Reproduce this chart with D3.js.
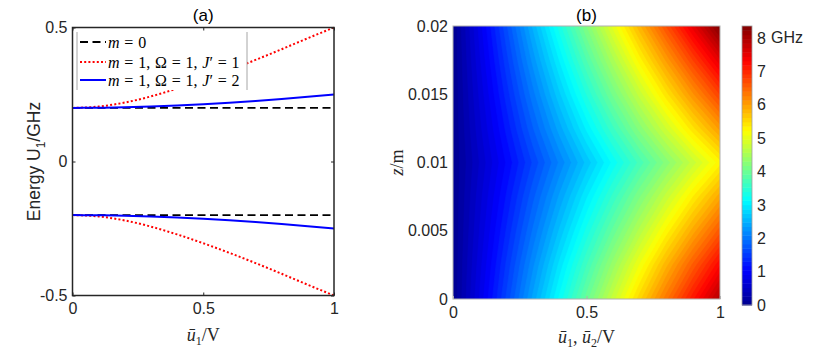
<!DOCTYPE html>
<html>
<head>
<meta charset="utf-8">
<script src="https://cdn.jsdelivr.net/npm/d3@7"></script>
<style>
  body { margin: 0; background: #fff; }
  .tick text { font-family: "Liberation Sans", Arial, sans-serif; fill: #262626; }
</style>
</head>
<body>
<div id="chart"></div>
<script>
// ---- data ----

// panel (a): energy levels vs u1
const uBar = [0, 0.1, 0.2, 0.3, 0.4, 0.5, 0.6, 0.7, 0.8, 0.9, 1];
const m0Upper = [0.2, 0.2, 0.2, 0.2, 0.2, 0.2, 0.2, 0.2, 0.2, 0.2, 0.2];
const m0Lower = [-0.2, -0.2, -0.2, -0.2, -0.2, -0.2, -0.2, -0.2, -0.2, -0.2, -0.2];
const j1Upper = [0.2, 0.205, 0.22, 0.243, 0.272, 0.305, 0.341, 0.379, 0.419, 0.46, 0.5];
const j1Lower = [-0.2, -0.205, -0.22, -0.243, -0.272, -0.305, -0.341, -0.379, -0.419, -0.46, -0.5];
const j2Upper = [0.2, 0.2006, 0.2022, 0.205, 0.2088, 0.2136, 0.2193, 0.2259, 0.2332, 0.2413, 0.25];
const j2Lower = [-0.2, -0.2006, -0.2022, -0.205, -0.2088, -0.2136, -0.2193, -0.2259, -0.2332, -0.2413, -0.25];

// panel (b): GHz map over (u1,u2) and z
const uGrid = [0, 0.1, 0.2, 0.3, 0.4, 0.5, 0.6, 0.7, 0.8, 0.9, 1];
const zGrid = [0, 0.0025, 0.005, 0.0075, 0.01, 0.0125, 0.015, 0.0175, 0.02];
const ghz = [
  [0, 0.80, 1.59, 2.39, 3.18, 3.98, 4.77, 5.57, 6.36, 7.16, 7.95],
  [0, 0.73, 1.46, 2.19, 2.92, 3.65, 4.38, 5.11, 5.84, 6.57, 7.30],
  [0, 0.66, 1.32, 1.98, 2.64, 3.30, 3.96, 4.62, 5.28, 5.94, 6.60],
  [0, 0.60, 1.19, 1.79, 2.38, 2.98, 3.57, 4.17, 4.76, 5.36, 5.95],
  [0, 0.53, 1.06, 1.59, 2.12, 2.65, 3.18, 3.71, 4.24, 4.77, 5.30],
  [0, 0.61, 1.21, 1.82, 2.42, 3.03, 3.63, 4.24, 4.84, 5.45, 6.05],
  [0, 0.68, 1.36, 2.04, 2.72, 3.40, 4.08, 4.76, 5.44, 6.12, 6.80],
  [0, 0.76, 1.51, 2.27, 3.02, 3.78, 4.53, 5.29, 6.04, 6.80, 7.55],
  [0, 0.84, 1.67, 2.51, 3.34, 4.18, 5.01, 5.85, 6.68, 7.52, 8.35]
];
const cbMax = 8.36;

// ticks
const xTicksA = [0, 0.5, 1];
const yTicksA = [-0.5, 0, 0.5];
const xTicksB = [0, 0.5, 1];
const yTicksB = [0, 0.005, 0.01, 0.015, 0.02];
const cbTicks = [0, 1, 2, 3, 4, 5, 6, 7, 8];

// ---- layout ----
const W = 830, H = 349;
const pa = {l: 72.5, r: 334, t: 27.5, b: 295.5};
const pb = {l: 453, r: 720, t: 26, b: 299};
const cb = {l: 742, r: 752, t: 26, b: 305};
const sans = '"Liberation Sans", Arial, sans-serif';
const serif = '"Liberation Serif", "DejaVu Serif", serif';
const axisColor = "#262626";
const fmt = d => String(d); // plain hyphen minus like matlab

const svg = d3.select("#chart").append("svg")
  .attr("width", W).attr("height", H);

// ---- panel (a) ----
const xA = d3.scaleLinear().domain([0, 1]).range([pa.l, pa.r]);
const yA = d3.scaleLinear().domain([-0.5, 0.5]).range([pa.b, pa.t]);

const lineA = (ys) => d3.line()
  .x((d, i) => xA(uBar[i]))
  .y(d => yA(d))
  .curve(d3.curveMonotoneX)(ys);

const gA = svg.append("g");

// curves
[m0Upper, m0Lower].forEach(s => gA.append("path")
  .attr("d", lineA(s)).attr("fill", "none")
  .attr("stroke", "#000").attr("stroke-width", 1.8)
  .attr("stroke-dasharray", "8,4.5"));
[j1Upper, j1Lower].forEach(s => gA.append("path")
  .attr("d", lineA(s)).attr("fill", "none")
  .attr("stroke", "#ff0000").attr("stroke-width", 2)
  .attr("stroke-dasharray", "2,2.2"));
[j2Upper, j2Lower].forEach(s => gA.append("path")
  .attr("d", lineA(s)).attr("fill", "none")
  .attr("stroke", "#0000ff").attr("stroke-width", 2));

// legend (white box hides the curve behind it)
const leg = gA.append("g");
leg.append("rect").attr("x", 77).attr("y", 32).attr("width", 170).attr("height", 58)
  .attr("fill", "#fff");
[77, 247].forEach(x => leg.append("line")
  .attr("x1", x).attr("x2", x).attr("y1", 32).attr("y2", 90)
  .attr("stroke", "#a6a6a6").attr("stroke-width", 1));

const legendItems = [
  {stroke: "#000", dash: "8,4.5", y: 42, parts: [["m", "italic"], [" = 0", "normal"]]},
  {stroke: "#ff0000", dash: "2,2.2", y: 62, parts: [["m", "italic"], [" = 1, Ω = 1, ", "normal"], ["J", "italic"], ["′ = 1", "normal"]]},
  {stroke: "#0000ff", dash: null, y: 80, parts: [["m", "italic"], [" = 1, Ω = 1, ", "normal"], ["J", "italic"], ["′ = 2", "normal"]]}
];
legendItems.forEach(it => {
  leg.append("line").attr("x1", 80).attr("x2", 106).attr("y1", it.y).attr("y2", it.y)
    .attr("stroke", it.stroke).attr("stroke-width", it.dash === "8,4.5" ? 1.8 : 2)
    .attr("stroke-dasharray", it.dash);
  const t = leg.append("text").attr("x", 108).attr("y", it.y + 5.5)
    .style("font-family", serif).style("font-size", "16px")
    .style("word-spacing", "0.8px").attr("fill", "#000");
  it.parts.forEach(p => t.append("tspan").style("font-style", p[1]).text(p[0]));
});

// box
gA.append("rect").attr("x", pa.l).attr("y", pa.t)
  .attr("width", pa.r - pa.l).attr("height", pa.b - pa.t)
  .attr("fill", "none").attr("stroke", axisColor).attr("stroke-width", 1.5);

// axes (ticks inward)
gA.append("g").attr("transform", `translate(0,${pa.b})`)
  .call(d3.axisBottom(xA).tickValues(xTicksA).tickFormat(fmt)
    .tickSizeInner(-3).tickSizeOuter(0).tickPadding(7))
  .call(g => g.select(".domain").remove())
  .call(g => g.selectAll(".tick line").attr("stroke", axisColor))
  .call(g => g.selectAll(".tick text").style("font-size", "16px"));
gA.append("g").attr("transform", `translate(0,${pa.t})`)
  .call(d3.axisTop(xA).tickValues(xTicksA).tickFormat("")
    .tickSizeInner(-3).tickSizeOuter(0))
  .call(g => g.select(".domain").remove())
  .call(g => g.selectAll(".tick line").attr("stroke", axisColor));
gA.append("g").attr("transform", `translate(${pa.l},0)`)
  .call(d3.axisLeft(yA).tickValues(yTicksA).tickFormat(fmt)
    .tickSizeInner(-3).tickSizeOuter(0).tickPadding(5))
  .call(g => g.select(".domain").remove())
  .call(g => g.selectAll(".tick line").attr("stroke", axisColor))
  .call(g => g.selectAll(".tick text").style("font-size", "16px"));
gA.append("g").attr("transform", `translate(${pa.r},0)`)
  .call(d3.axisRight(yA).tickValues(yTicksA).tickFormat("")
    .tickSizeInner(-3).tickSizeOuter(0))
  .call(g => g.select(".domain").remove())
  .call(g => g.selectAll(".tick line").attr("stroke", axisColor));

// labels
gA.append("text").attr("x", (pa.l + pa.r) / 2).attr("y", 21)
  .attr("text-anchor", "middle").style("font-family", sans).style("font-size", "17px")
  .attr("fill", "#000").text("(a)");

const ylabA = gA.append("text")
  .attr("transform", `translate(40,${(pa.t + pa.b) / 2}) rotate(-90)`)
  .attr("text-anchor", "middle").style("font-family", sans).style("font-size", "17.5px")
  .attr("fill", axisColor);
ylabA.append("tspan").text("Energy U");
ylabA.append("tspan").attr("dy", 5).style("font-size", "12px").text("1");
ylabA.append("tspan").attr("dy", -5).text("/GHz");

const xlabA = gA.append("text").attr("x", (pa.l + pa.r) / 2).attr("y", 341)
  .attr("text-anchor", "middle").style("font-family", serif).style("font-size", "18px")
  .attr("fill", axisColor);
xlabA.append("tspan").style("font-style", "italic").text("ū");
xlabA.append("tspan").attr("dy", 4).style("font-size", "12px").text("1");
xlabA.append("tspan").attr("dy", -4).text("/V");

// ---- panel (b) ----
const xB = d3.scaleLinear().domain([0, 1]).range([pb.l, pb.r]);
const yB = d3.scaleLinear().domain([0, 0.02]).range([pb.b, pb.t]);

const jet = d3.scaleLinear()
  .domain([0, 1 / 8, 3 / 8, 5 / 8, 7 / 8, 1].map(t => t * cbMax))
  .range(["#00008f", "#0000ff", "#00ffff", "#ffff00", "#ff0000", "#800000"])
  .clamp(true);

const nLevels = 64;
const step = cbMax / nLevels;
const levels = d3.range(nLevels).map(i => i * step);

const nx = uGrid.length, ny = zGrid.length;
const flat = [];
ghz.forEach(row => row.forEach(v => flat.push(v)));

const contours = d3.contours().size([nx, ny]).thresholds(levels).smooth(true)(flat);

const du = uGrid[1] - uGrid[0], dz = zGrid[1] - zGrid[0];
const proj = d3.geoTransform({
  point: function(gx, gy) {
    this.stream.point(xB(uGrid[0] + (gx - 0.5) * du), yB(zGrid[0] + (gy - 0.5) * dz));
  }
});
const pathB = d3.geoPath(proj);

svg.append("clipPath").attr("id", "clipB").append("rect")
  .attr("x", pb.l).attr("y", pb.t).attr("width", pb.r - pb.l).attr("height", pb.b - pb.t);

const gB = svg.append("g");
gB.append("g").attr("clip-path", "url(#clipB)")
  .selectAll("path").data(contours).join("path")
  .attr("d", pathB)
  .attr("fill", d => jet(d.value + step / 2))
  .attr("stroke", d => jet(d.value + step / 2))
  .attr("stroke-width", 0.6);

// axes for (b): light lines, inward ticks
gB.append("rect").attr("x", pb.l).attr("y", pb.t)
  .attr("width", pb.r - pb.l).attr("height", pb.b - pb.t)
  .attr("fill", "none").attr("stroke", "#b0b0b0").attr("stroke-width", 1);

gB.append("g").attr("transform", `translate(0,${pb.b})`)
  .call(d3.axisBottom(xB).tickValues(xTicksB).tickFormat(fmt)
    .tickSizeInner(-3).tickSizeOuter(0).tickPadding(8))
  .call(g => g.select(".domain").remove())
  .call(g => g.selectAll(".tick line").attr("stroke", "#b0b0b0"))
  .call(g => g.selectAll(".tick text").style("font-size", "16px"));
gB.append("g").attr("transform", `translate(${pb.l},0)`)
  .call(d3.axisLeft(yB).tickValues(yTicksB).tickFormat(fmt)
    .tickSizeInner(0).tickSizeOuter(0).tickPadding(5))
  .call(g => g.select(".domain").remove())
  .call(g => g.selectAll(".tick text").style("font-size", "16px"));

gB.append("text").attr("x", (pb.l + pb.r) / 2).attr("y", 21)
  .attr("text-anchor", "middle").style("font-family", sans).style("font-size", "17px")
  .attr("fill", "#000").text("(b)");

const ylabB = gB.append("text")
  .attr("transform", `translate(403,${(pb.t + pb.b) / 2}) rotate(-90)`)
  .attr("text-anchor", "middle").style("font-family", serif).style("font-size", "18px")
  .attr("fill", axisColor);
ylabB.append("tspan").style("font-style", "italic").text("z");
ylabB.append("tspan").text("/m");

const xlabB = gB.append("text").attr("x", (pb.l + pb.r) / 2).attr("y", 343)
  .attr("text-anchor", "middle").style("font-family", serif).style("font-size", "18px")
  .attr("fill", axisColor);
xlabB.append("tspan").style("font-style", "italic").text("ū");
xlabB.append("tspan").attr("dy", 4).style("font-size", "12px").text("1");
xlabB.append("tspan").attr("dy", -4).text(", ");
xlabB.append("tspan").style("font-style", "italic").text("ū");
xlabB.append("tspan").attr("dy", 4).style("font-size", "12px").text("2");
xlabB.append("tspan").attr("dy", -4).text("/V");

// ---- colorbar ----
const yC = d3.scaleLinear().domain([0, cbMax]).range([cb.b, cb.t]);
const gC = svg.append("g");
gC.selectAll("rect.band").data(levels).join("rect")
  .attr("class", "band")
  .attr("x", cb.l).attr("width", cb.r - cb.l)
  .attr("y", d => yC(d + step))
  .attr("height", d => yC(d) - yC(d + step) + 0.5)
  .attr("fill", d => jet(d + step / 2));
gC.append("rect").attr("x", cb.l).attr("y", cb.t)
  .attr("width", cb.r - cb.l).attr("height", cb.b - cb.t)
  .attr("fill", "none").attr("stroke", "#a0a0a0").attr("stroke-width", 0.8);

gC.append("g").attr("transform", `translate(${cb.r},0)`)
  .call(d3.axisRight(yC).tickValues(cbTicks).tickFormat(fmt)
    .tickSizeInner(0).tickSizeOuter(0).tickPadding(5))
  .call(g => g.select(".domain").remove())
  .call(g => g.selectAll(".tick text").style("font-size", "16px"));
gC.append("text").attr("x", 771).attr("y", yC(8)).attr("dy", "0.32em")
  .style("font-family", sans).style("font-size", "16px").attr("fill", axisColor)
  .text("GHz");
</script>
</body>
</html>
